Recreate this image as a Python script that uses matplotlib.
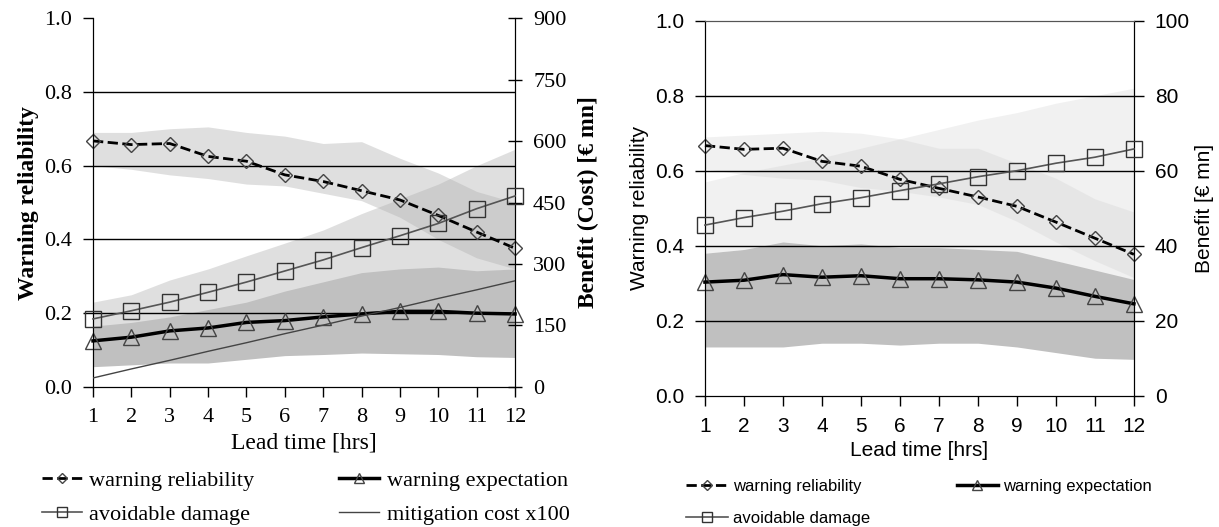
import numpy as np
import matplotlib
matplotlib.use('Agg')
from matplotlib import pyplot as plt
from matplotlib.lines import Line2D

# lead time axis
lead = [1, 2, 3, 4, 5, 6, 7, 8, 9, 10, 11, 12]

# left panel (Benefit / Cost on right axis, 0-900 EUR mn)
rel_L = [0.667, 0.657, 0.660, 0.625, 0.612, 0.575, 0.557, 0.532, 0.507, 0.465, 0.420, 0.376]
rel_L_hi = [0.690, 0.690, 0.700, 0.705, 0.690, 0.680, 0.660, 0.665, 0.620, 0.580, 0.530, 0.500]
rel_L_lo = [0.600, 0.590, 0.575, 0.565, 0.550, 0.545, 0.525, 0.505, 0.460, 0.400, 0.350, 0.320]
exp_L = [0.125, 0.135, 0.152, 0.160, 0.175, 0.180, 0.190, 0.198, 0.205, 0.205, 0.200, 0.198]
exp_L_hi = [0.165, 0.175, 0.190, 0.210, 0.230, 0.260, 0.285, 0.310, 0.320, 0.325, 0.315, 0.320]
exp_L_lo = [0.055, 0.060, 0.065, 0.065, 0.075, 0.085, 0.088, 0.092, 0.090, 0.088, 0.082, 0.080]
dam_L = [166, 186, 207, 231, 256, 283, 310, 340, 369, 399, 435, 466]
dam_L_hi = [207, 225, 261, 288, 320, 351, 383, 423, 459, 495, 540, 580]
dam_L_lo = [145, 155, 170, 185, 200, 215, 230, 245, 260, 270, 280, 288]
cost_L = [22, 44, 65, 87, 108, 130, 151, 173, 194, 216, 237, 259]

# right panel (Benefit on right axis, 0-100 EUR mn)
rel_R = [0.667, 0.657, 0.660, 0.625, 0.612, 0.577, 0.553, 0.530, 0.505, 0.463, 0.420, 0.377]
rel_R_hi = [0.690, 0.695, 0.700, 0.705, 0.700, 0.685, 0.660, 0.660, 0.620, 0.580, 0.525, 0.490]
rel_R_lo = [0.605, 0.590, 0.580, 0.575, 0.555, 0.545, 0.530, 0.510, 0.465, 0.410, 0.360, 0.315]
exp_R = [0.303, 0.308, 0.323, 0.316, 0.320, 0.312, 0.312, 0.309, 0.303, 0.287, 0.265, 0.245]
exp_R_hi = [0.380, 0.390, 0.410, 0.400, 0.405, 0.395, 0.395, 0.390, 0.385, 0.360, 0.335, 0.310]
exp_R_lo = [0.130, 0.130, 0.130, 0.140, 0.140, 0.135, 0.140, 0.140, 0.130, 0.115, 0.100, 0.097]
dam_R = [45.5, 47.5, 49.2, 51.2, 52.8, 54.7, 56.5, 58.4, 60.0, 62.0, 63.6, 65.8]
dam_R_hi = [57.0, 59.5, 61.5, 63.5, 66.0, 68.5, 71.0, 73.5, 75.5, 78.0, 80.0, 82.0]
dam_R_lo = [38.0, 39.0, 40.0, 40.0, 40.0, 39.0, 39.0, 38.5, 38.0, 36.0, 33.0, 31.0]

serif = ['Liberation Serif', 'DejaVu Serif']
sans = ['Liberation Sans Narrow', 'Liberation Sans', 'DejaVu Sans']

fig = plt.figure(figsize=(12.19, 5.27), dpi=100)


def panel(rect, rel, rel_hi, rel_lo, exp, exp_hi, exp_lo, dam, dam_hi, dam_lo, bmax,
          light, light_a, fam, fs, lfs, rlabel, rbold, lbold, topspine, rtickdir, rpad):
    ax = fig.add_axes(rect)
    x = np.array(lead)
    # bands (all on the primary axis so the gridlines stay on top)
    ax.fill_between(x, np.array(dam_lo) / bmax, np.array(dam_hi) / bmax,
                    color=light, alpha=light_a, lw=0, zorder=1)
    ax.fill_between(x, rel_lo, rel_hi, color=light, alpha=light_a, lw=0, zorder=1)
    ax.fill_between(x, exp_lo, exp_hi, color='#c0c0c0', lw=0, zorder=2)
    for g in [0.2, 0.4, 0.6, 0.8]:
        ax.axhline(g, color='black', lw=1.0, zorder=3)
    ax.plot(x, rel, '--', color='black', lw=2, marker='D', ms=7, mfc='none',
            mec='#444444', mew=1, zorder=5, clip_on=False)
    ax.plot(x, exp, '-', color='black', lw=2.5, marker='^', ms=11, mfc='none',
            mec='#444444', mew=1, zorder=5, clip_on=False)
    ax.set_xlim(1, 12)
    ax.set_ylim(0, 1)
    ax.set_xticks(lead)
    ax.set_yticks([0, 0.2, 0.4, 0.6, 0.8, 1.0])
    ax.set_yticklabels(['0.0', '0.2', '0.4', '0.6', '0.8', '1.0'])
    ax.spines['top'].set_visible(topspine)
    ax.spines['top'].set_color('#555555')
    ax.tick_params(length=7, width=1, labelsize=fs, pad=8)
    for t in ax.get_xticklabels() + ax.get_yticklabels():
        t.set_family(fam)
    ax.set_xlabel('Lead time [hrs]', family=fam, fontsize=lfs)
    ax.set_ylabel('Warning reliability', family=fam, fontsize=lfs,
                  fontweight='bold' if lbold else 'normal')

    ax2 = ax.twinx()
    ax2.plot(x, dam, '-', color='#555555', lw=1.2, marker='s', ms=11, mfc='none',
             mec='#333333', mew=1, zorder=5, clip_on=False)
    ax2.set_ylim(0, bmax)
    ax2.set_yticks(np.linspace(0, bmax, 7 if bmax == 900 else 6))
    ax2.spines['top'].set_visible(topspine)
    ax2.spines['top'].set_color('#555555')
    ax2.tick_params(length=7 if rtickdir == 'out' else 10, width=1, direction=rtickdir,
                    labelsize=fs, pad=8)
    for t in ax2.get_yticklabels():
        t.set_family(fam)
    ax2.set_ylabel(rlabel, family=fam, fontsize=lfs,
                   fontweight='bold' if rbold else 'normal', labelpad=rpad)
    return ax, ax2


axL, axL2 = panel([0.0763, 0.2657, 0.3462, 0.700], rel_L, rel_L_hi, rel_L_lo,
                  exp_L, exp_L_hi, exp_L_lo, dam_L, dam_L_hi, dam_L_lo, 900,
                  '#b0b0b0', 0.4, serif, 16, 17, 'Benefit (Cost) [€ mn]', True, True,
                  False, 'inout', 8)
axL2.plot(lead, cost_L, '-', color='#444444', lw=1.0, zorder=4)

axR, axR2 = panel([0.5783, 0.2491, 0.3519, 0.7116], rel_R, rel_R_hi, rel_R_lo,
                  exp_R, exp_R_hi, exp_R_lo, dam_R, dam_R_hi, dam_R_lo, 100,
                  '#c8c8c8', 0.25, sans, 15, 15, 'Benefit [€ mn]', False, False,
                  True, 'out', 4)

# legends
h_rel = Line2D([], [], ls='--', color='black', lw=2, marker='D', ms=5, mfc='none', mec='#444444')
h_exp = Line2D([], [], ls='-', color='black', lw=2.5, marker='^', ms=7, mfc='none', mec='#444444')
h_dam = Line2D([], [], ls='-', color='#555555', lw=1.2, marker='s', ms=7, mfc='none', mec='#333333')
h_cost = Line2D([], [], ls='-', color='#444444', lw=1.0)

fig.legend([h_rel, h_dam, h_exp, h_cost],
           ['warning reliability', 'avoidable damage', 'warning expectation', 'mitigation cost x100'],
           ncol=2, loc='upper left', bbox_to_anchor=(0.025, 0.128), frameon=False,
           prop={'family': serif, 'size': 16}, handlelength=1.8, handletextpad=0.35,
           columnspacing=3.8, labelspacing=0.6, borderpad=0)

fig.legend([h_rel, h_dam, h_exp],
           ['warning reliability', 'avoidable damage', 'warning expectation'],
           ncol=2, loc='upper left', bbox_to_anchor=(0.556, 0.107), frameon=False,
           prop={'family': sans, 'size': 12}, handlelength=2.5, handletextpad=0.3,
           columnspacing=5.2, labelspacing=1.0, borderpad=0)

plt.savefig('out.png', dpi=100)
